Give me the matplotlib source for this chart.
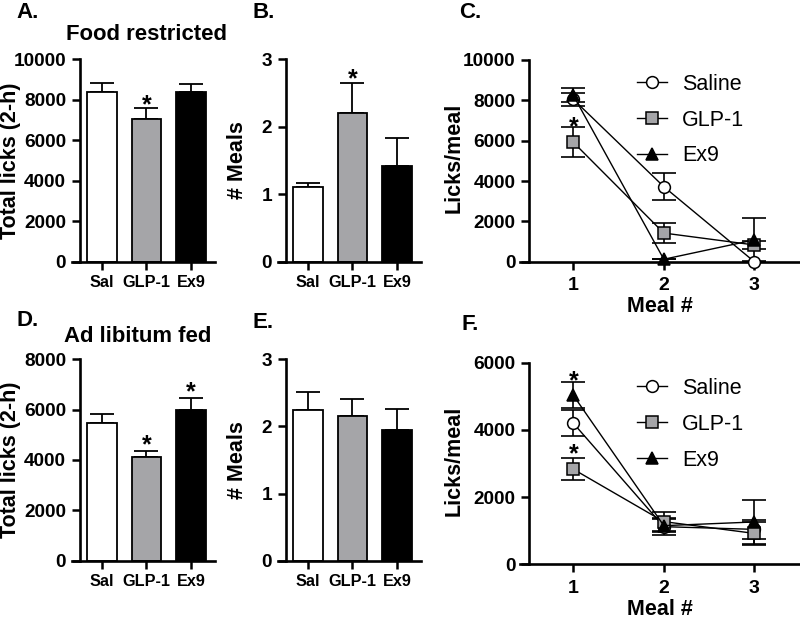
import matplotlib
matplotlib.use("Agg")
import matplotlib.pyplot as plt
from matplotlib.lines import Line2D

plt.rcParams['font.family'] = ['Liberation Sans', 'DejaVu Sans']
plt.rcParams['font.weight'] = 'bold'

# ---------------- data ----------------
groups = ['Sal', 'GLP-1', 'Ex9']
bar_colors = ['white', '#a5a5a8', 'black']

fr_total = [8400, 7050, 8400]
fr_total_sem = [410, 560, 365]
fr_meals = [1.10, 2.20, 1.42]
fr_meals_sem = [0.07, 0.45, 0.42]

al_total = [5470, 4110, 5990]
al_total_sem = [370, 265, 490]
al_meals = [2.25, 2.15, 1.95]
al_meals_sem = [0.26, 0.26, 0.31]

meals = [1, 2, 3]
series_names = ['Saline', 'GLP-1', 'Ex9']
fr_sal = [8050, 3720, 0]
fr_sal_sem = [330, 680, 0]
fr_glp = [5920, 1420, 830]
fr_glp_sem = [740, 510, 180]
fr_ex9 = [8250, 120, 1080]
fr_ex9_sem = [350, 0, 1070]

al_sal = [4200, 1120, 1040]
al_sal_sem = [390, 250, 280]
al_glp = [2830, 1270, 920]
al_glp_sem = [330, 280, 350]
al_ex9 = [5030, 1150, 1260]
al_ex9_sem = [390, 200, 660]

W, H = 800, 620
fig = plt.figure(figsize=(8, 6.2), dpi=100)


def px_axes(x0, x1, ytop, ybot):
    return fig.add_axes([x0 / W, 1 - ybot / H, (x1 - x0) / W, (ybot - ytop) / H])


def style(ax, spine_x):
    for s in ['top', 'right']:
        ax.spines[s].set_visible(False)
    ax.spines['left'].set_linewidth(1.9)
    ax.spines['bottom'].set_linewidth(1.9)
    ax.spines['left'].set_position(('data', spine_x))
    ax.tick_params(axis='y', length=6, width=1.8, labelsize=13.7, pad=4)
    ax.set_facecolor('none')


def star(ax, x, y):
    ax.annotate('*', xy=(x, y), xytext=(0, -10.5), textcoords='offset points',
                ha='center', va='baseline', fontsize=18, fontweight='bold')


def bar_panel(ax, vals, sems, ylim, yticks, ylabel, label_x):
    xs = range(len(groups))
    ax.bar(xs, vals, width=0.67, color=bar_colors, edgecolor='black', linewidth=1.3, zorder=2)
    ax.errorbar(xs, vals, yerr=[[0] * len(vals), sems], fmt='none', ecolor='black',
                elinewidth=1.3, capsize=8.5, capthick=1.3, zorder=1)
    ax.set_xlim(-0.674, 2.54)
    ax.set_ylim(*ylim)
    ax.set_yticks(yticks)
    ax.set_xticks(list(xs))
    ax.set_xticklabels(groups)
    ax.tick_params(axis='x', length=6, width=1.8, labelsize=11.7, pad=3.5)
    style(ax, -0.494)
    ax.set_ylabel(ylabel, fontsize=15.5, fontweight='bold')
    ax.yaxis.set_label_coords(label_x, 0.5)


def line_panel(ax, data, ylim, yticks, legend_y):
    markers = ['o', 's', '^']
    faces = ['white', '#a5a5a8', 'black']
    sizes = [8.5, 8.2, 8.5]
    handles = []
    for (vals, sems), m, fc, ms, name in zip(data, markers, faces, sizes, series_names):
        ax.errorbar(meals, vals, yerr=sems, fmt='none', ecolor='black', elinewidth=1.2,
                    capsize=8.5, capthick=1.2, zorder=2, clip_on=False)
        ax.plot(meals, vals, color='black', linewidth=1.0, marker=m, markersize=ms,
                markerfacecolor=fc, markeredgecolor='black', markeredgewidth=1.1,
                zorder=3, clip_on=False)
        handles.append(Line2D([0], [0], color='black', linewidth=1.0, marker=m,
                              markersize=ms, markerfacecolor=fc, markeredgecolor='black',
                              markeredgewidth=1.1))
    ax.set_xlim(0.411, 3.505)
    ax.set_ylim(*ylim)
    ax.set_yticks(yticks)
    ax.set_xticks(meals)
    ax.tick_params(axis='x', length=6, width=1.8, labelsize=14, pad=5)
    style(ax, 0.514)
    ax.set_ylabel('Licks/meal', fontsize=15.5, fontweight='bold')
    ax.yaxis.set_label_coords(-0.196, 0.515)
    ax.set_xlabel('Meal #', fontsize=15.5, fontweight='bold', labelpad=1.5)
    ax.legend(handles, series_names, loc='upper left', bbox_to_anchor=(0.4168, legend_y),
              frameon=False, borderpad=0, borderaxespad=0, handlelength=1.4,
              handletextpad=0.7, labelspacing=0.69,
              prop={'size': 15.5, 'weight': 'normal'})


# ---- A ----
axA = px_axes(72, 215, 59.3, 261.7)
bar_panel(axA, fr_total, fr_total_sem, (0, 10000), range(0, 10001, 2000),
          'Total licks (2-h)', -0.36)
star(axA, 1, 8090)

# ---- B ----
axB = px_axes(278, 421, 59.3, 261.7)
bar_panel(axB, fr_meals, fr_meals_sem, (0, 3), [0, 1, 2, 3], '# Meals', -0.21)
star(axB, 1, 2.82)

# ---- C ----
axC = px_axes(520, 800, 60, 261.7)
line_panel(axC, [(fr_sal, fr_sal_sem), (fr_glp, fr_glp_sem), (fr_ex9, fr_ex9_sem)],
           (0, 10000), range(0, 10001, 2000), 0.932)
star(axC, 1, 7030)

# ---- D ----
axD = px_axes(72, 215, 359.3, 560.7)
bar_panel(axD, al_total, al_total_sem, (0, 8000), range(0, 8001, 2000),
          'Total licks (2-h)', -0.36)
star(axD, 1, 4900)
star(axD, 2, 6980)

# ---- E ----
axE = px_axes(278, 421, 359.3, 560.7)
bar_panel(axE, al_meals, al_meals_sem, (0, 3), [0, 1, 2, 3], '# Meals', -0.21)

# ---- F ----
axF = px_axes(520, 800, 362.7, 564.3)
line_panel(axF, [(al_sal, al_sal_sem), (al_glp, al_glp_sem), (al_ex9, al_ex9_sem)],
           (0, 6000), range(0, 6001, 2000), 0.925)
star(axF, 1, 5680)
star(axF, 1, 3490)

# ---- panel letters and titles ----
def ftext(x, y, s, size, ha='left'):
    fig.text(x / W, 1 - y / H, s, fontsize=size, fontweight='bold', ha=ha, va='center')

ftext(16, 13, 'A.', 16)
ftext(252, 13, 'B.', 16)
ftext(459, 13, 'C.', 16)
ftext(16, 321, 'D.', 16)
ftext(252, 322, 'E.', 16)
ftext(461, 324, 'F.', 16)
ftext(147, 34, 'Food restricted', 15.9, ha='center')
ftext(138, 336, 'Ad libitum fed', 15.9, ha='center')

fig.savefig('out.png', dpi=100)
